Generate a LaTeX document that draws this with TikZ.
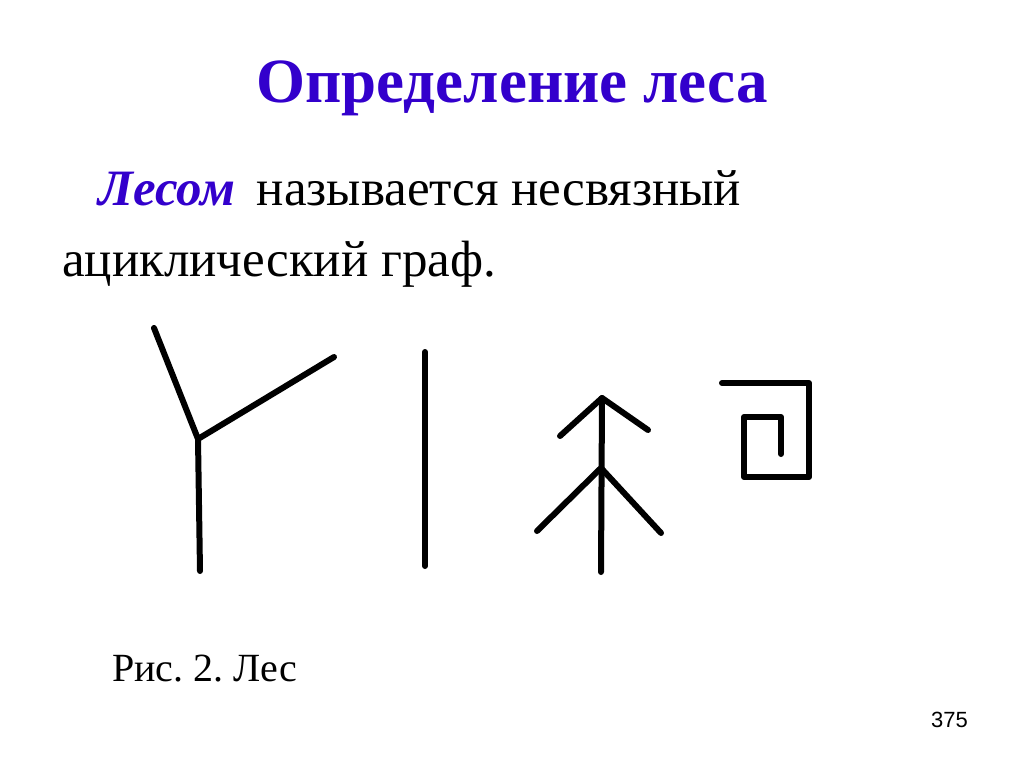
\documentclass[tikz,border=0pt]{standalone}
\usepackage{fontspec}
\setmainfont{Liberation Serif}
\newfontfamily\numfont{Liberation Sans}
\definecolor{titleblue}{RGB}{51,0,204}
\tikzset{
    edge/.style={line width=6pt, line cap=round, line join=round},
    txt/.style={anchor=base west, inner sep=0pt}
}
\frenchspacing
\begin{document}
\begin{tikzpicture}[x=1pt, y=-1pt]
            \useasboundingbox[fill=white] (0,0) rectangle (1024,767);

            % заголовок и определение
            \node[anchor=base, inner sep=0pt, text=titleblue] (title) at (512,103)
                {\fontsize{63}{70}\selectfont\bfseries Определение леса};
            \node[txt] (def1) at (98,206)
                {\fontsize{51}{60}\selectfont\textcolor{titleblue}{\bfseries\itshape Лесом}\hspace{9pt} называется несвязный};
            \node[txt] (def2) at (62,276)
                {\fontsize{51}{60}\selectfont ациклический граф.};

            % первое дерево
            \coordinate (A) at (154,328);
            \coordinate (B) at (198,439);
            \coordinate (C) at (334,357);
            \coordinate (D) at (200,571);

            \draw[edge] (A) -- (B) -- (C);
            \draw[edge] (B) -- (D);

            % второе дерево
            \coordinate (E) at (425,352);
            \coordinate (F) at (425,566);

            \draw[edge] (E) -- (F);

            % третье дерево
            \coordinate (G) at (602,398);
            \coordinate (H) at (560,436);
            \coordinate (I) at (648,430);
            \coordinate (J) at (601,468);
            \coordinate (K) at (537,531);
            \coordinate (L) at (661,533);
            \coordinate (M) at (601,572);

            \draw[edge] (H) -- (G) -- (I);
            \draw[edge] (G) -- (M);
            \draw[edge] (K) -- (J) -- (L);

            % четвёртое дерево
            \coordinate (N) at (722,383);
            \coordinate (O) at (809,383);
            \coordinate (P) at (809,477);
            \coordinate (Q) at (744,477);
            \coordinate (R) at (744,417);
            \coordinate (S) at (781,417);
            \coordinate (T) at (781,454);

            \draw[edge] (N) -- (O) -- (P) -- (Q) -- (R) -- (S) -- (T);

            % подписи
            \node[txt] (caption) at (112,681)
                {\fontsize{40}{48}\selectfont Рис. 2. Лес};
            \node[txt] (page) at (931,727)
                {\fontsize{22}{26}\selectfont\numfont 375};
        \end{tikzpicture}
\end{document}
